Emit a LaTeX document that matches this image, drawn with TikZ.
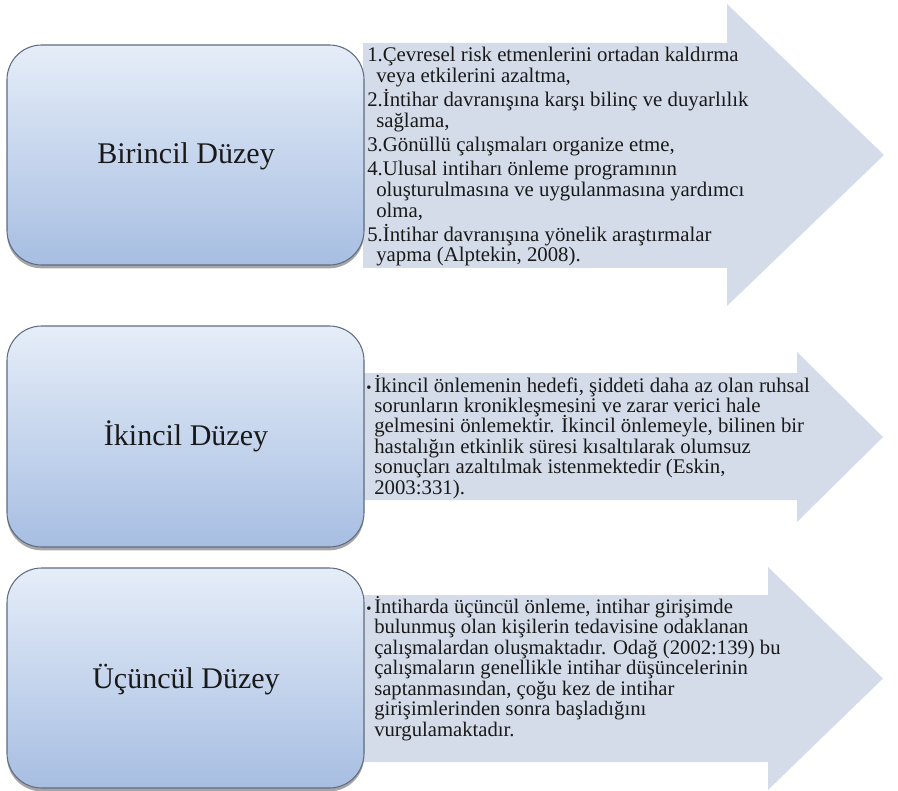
\documentclass[tikz,border=0pt]{standalone}
\usepackage{fontspec}
\setmainfont{Liberation Serif}
\usetikzlibrary{shadows}
\definecolor{boxtop}{RGB}{229,237,248}
\definecolor{boxbot}{RGB}{167,190,226}
\definecolor{boxline}{RGB}{96,108,128}
\definecolor{arrowfill}{RGB}{213,220,233}
\definecolor{txt}{RGB}{25,25,25}
\tikzset{
  levelbox/.style={draw=boxline, line width=0.8pt, rounded corners=26pt,
    top color=boxtop, bottom color=boxbot,
    drop shadow={shadow xshift=0pt, shadow yshift=-2.5pt, opacity=0.35, fill=black}},
  bigarrow/.style={fill=arrowfill, draw=none},
  levellabel/.style={font=\fontsize{22.5}{25}\selectfont, text=txt, anchor=base, inner sep=0pt},
  bodytext/.style={anchor=base west, inner sep=0pt, text=txt},
}
\newcommand{\bul}{\makebox[6pt][l]{\fontsize{11}{11}\selectfont •}}
\begin{document}
\begin{tikzpicture}[x=0.75pt,y=-0.75pt]
\useasboundingbox (0,0) rectangle (898,791);
% arrows
\path[bigarrow] (363,43) -- (727,43) -- (727,4) -- (884,155) -- (727,306) -- (727,268) -- (363,268) -- cycle;
\path[bigarrow] (363,373) -- (797,373) -- (797,352) -- (883,437) -- (797,522) -- (797,500) -- (363,500) -- cycle;
\path[bigarrow] (363,595) -- (768,595) -- (768,567) -- (883,678.5) -- (768,790) -- (768,762) -- (363,762) -- cycle;
% boxes
\path[levelbox] (7,45) rectangle (364,265);
\path[levelbox] (7,326) rectangle (364,547);
\path[levelbox] (7,568) rectangle (364,788);
% labels
\node[levellabel] (l1) at (186,164) {Birincil Düzey};
\node[levellabel] (l2) at (186,445) {İkincil Düzey};
\node[levellabel] (l3) at (186,688) {Üçüncül Düzey};
% texts
\node[bodytext] (t1) at (367,62) {\parbox[t]{400pt}{\fontsize{15.6}{15.6}\selectfont\lineskiplimit=-\maxdimen
1.Çevresel risk etmenlerini ortadan kaldırma\\
\hspace*{6.75pt}veya etkilerini azaltma,\\[2.4pt]
2.İntihar davranışına karşı bilinç ve duyarlılık\\
\hspace*{6.75pt}sağlama,\\[2.4pt]
3.Gönüllü çalışmaları organize etme,\\[2.4pt]
4.Ulusal intiharı önleme programının\\
\hspace*{6.75pt}oluşturulmasına ve uygulanmasına yardımcı\\
\hspace*{6.75pt}olma,\\[2.4pt]
5.İntihar davranışına yönelik araştırmalar\\
\hspace*{6.75pt}yapma (Alptekin, 2008).}};
\node[bodytext] (t2) at (366,392) {\parbox[t]{400pt}{\fontsize{15.6}{15.3}\selectfont\lineskiplimit=-\maxdimen
\bul İkincil önlemenin hedefi, şiddeti daha az olan ruhsal\\
\hspace*{6pt}sorunların kronikleşmesini ve zarar verici hale\\
\hspace*{6pt}gelmesini önlemektir. İkincil önlemeyle, bilinen bir\\
\hspace*{6pt}hastalığın etkinlik süresi kısaltılarak olumsuz\\
\hspace*{6pt}sonuçları azaltılmak istenmektedir (Eskin,\\
\hspace*{6pt}2003:331).}};
\node[bodytext] (t3) at (366,613) {\parbox[t]{400pt}{\fontsize{15.5}{15.4}\selectfont\lineskiplimit=-\maxdimen
\bul İntiharda üçüncül önleme, intihar girişimde\\
\hspace*{6pt}bulunmuş olan kişilerin tedavisine odaklanan\\
\hspace*{6pt}çalışmalardan oluşmaktadır. Odağ (2002:139) bu\\
\hspace*{6pt}çalışmaların genellikle intihar düşüncelerinin\\
\hspace*{6pt}saptanmasından, çoğu kez de intihar\\
\hspace*{6pt}girişimlerinden sonra başladığını\\
\hspace*{6pt}vurgulamaktadır.}};
\end{tikzpicture}
\end{document}
